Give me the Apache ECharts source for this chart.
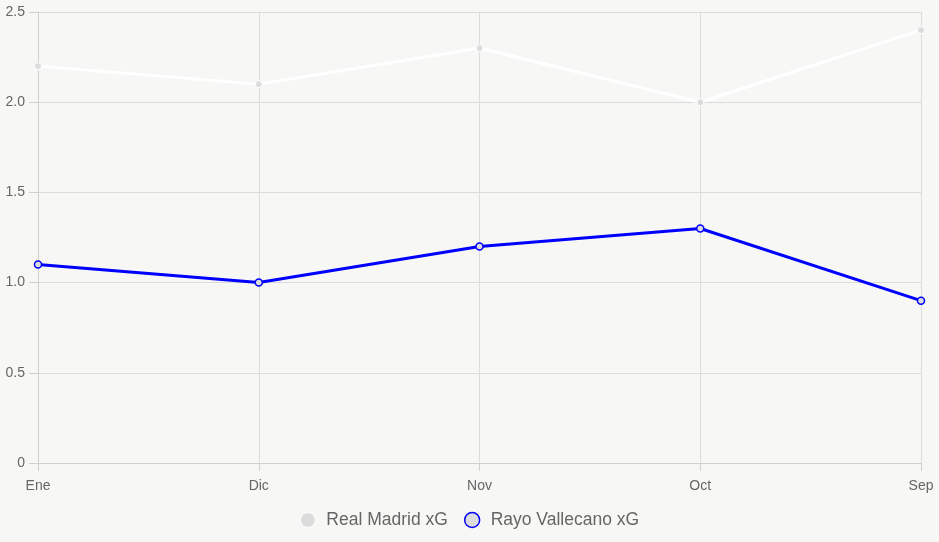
<!DOCTYPE html>
<html><head><meta charset="utf-8">
<script src="https://cdn.jsdelivr.net/npm/echarts@6/dist/echarts.min.js"></script>
<style>html,body{margin:0;padding:0;background:#f7f7f5;}#c{width:939px;height:542px;}</style>
</head><body><div id="c"></div>
<script>
const categories = ['Ene', 'Dic', 'Nov', 'Oct', 'Sep'];
const realMadridXG = [2.2, 2.1, 2.3, 2.0, 2.4];
const rayoXG = [1.1, 1.0, 1.2, 1.3, 0.9];
const seriesNames = ['Real Madrid xG', 'Rayo Vallecano xG'];

const chart = echarts.init(document.getElementById('c'));
const font = 'Helvetica Neue, Helvetica, Arial, Liberation Sans, sans-serif';
chart.setOption({
  backgroundColor: '#f7f7f5',
  animation: false,
  grid: { left: 38, right: 18, top: 12, bottom: 79 },
  legend: {
    bottom: 8,
    left: 'center',
    icon: 'circle',
    itemWidth: 15,
    itemHeight: 15,
    itemGap: 16,
    textStyle: { color: '#666', fontSize: 17.5, fontFamily: font, padding: [0, 0, 0, 6] },
    data: [
      { name: seriesNames[0], itemStyle: { color: '#dcdcdc', borderColor: '#ffffff', borderWidth: 1 } },
      { name: seriesNames[1], itemStyle: { color: '#dcdcdc', borderColor: '#0000ff', borderWidth: 1.5 } }
    ]
  },
  xAxis: {
    type: 'category',
    data: categories,
    boundaryGap: false,
    axisLine: { show: true, lineStyle: { color: '#d0d0d0' } },
    axisTick: { show: true, length: 8, alignWithLabel: true, lineStyle: { color: '#d0d0d0' } },
    axisLabel: { color: '#666', fontSize: 14, fontFamily: font, margin: 16 },
    splitLine: { show: true, lineStyle: { color: '#dcdcdc' } }
  },
  yAxis: {
    type: 'value',
    min: 0, max: 2.5, interval: 0.5,
    axisLine: { show: true, lineStyle: { color: '#d0d0d0' } },
    axisTick: { show: true, length: 9, lineStyle: { color: '#d0d0d0' } },
    axisLabel: {
      color: '#666', fontSize: 14, fontFamily: font, margin: 13,
      formatter: v => v === 0 ? '0' : v.toFixed(1)
    },
    splitLine: { show: true, lineStyle: { color: '#dcdcdc' } }
  },
  series: [
    {
      name: seriesNames[0], type: 'line', data: realMadridXG,
      symbol: 'circle', symbolSize: 7,
      lineStyle: { color: '#ffffff', width: 3 },
      itemStyle: { color: '#dcdcdc', borderColor: '#ffffff', borderWidth: 1 }
    },
    {
      name: seriesNames[1], type: 'line', data: rayoXG,
      symbol: 'circle', symbolSize: 7,
      lineStyle: { color: '#0000ff', width: 3 },
      itemStyle: { color: '#dcdcdc', borderColor: '#0000ff', borderWidth: 1.5 }
    }
  ]
});
</script></body></html>
